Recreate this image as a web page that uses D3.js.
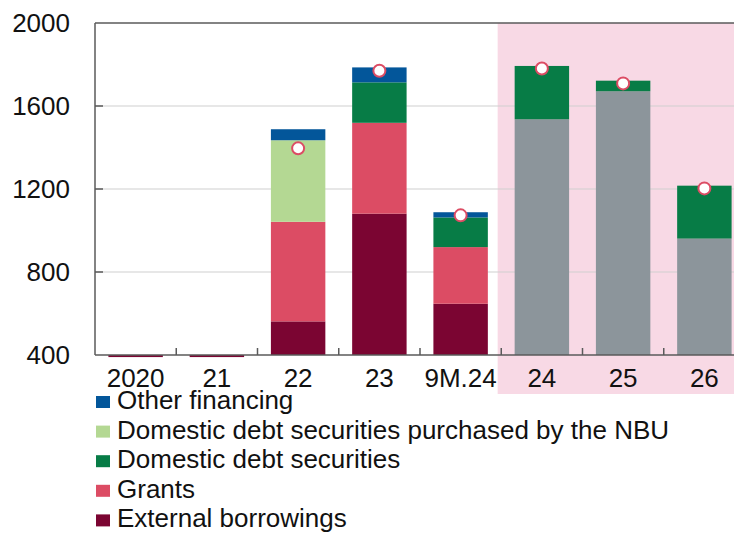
<!DOCTYPE html>
<html>
<head>
<meta charset="utf-8">
<script src="https://cdn.jsdelivr.net/npm/d3@7/dist/d3.min.js"></script>
<style>
  html, body { margin: 0; padding: 0; background: #fff; }
  svg { display: block; font-family: "Liberation Sans", Arial, sans-serif; }
</style>
</head>
<body>
<svg id="chart" width="734" height="533"></svg>
<script>
// Budget deficit financing, UAH bn
const categories = ["2020", "21", "22", "23", "9M.24", "24", "25", "26"];
const forecastCategories = ["24", "25", "26"];

const externalBorrowings = [390, 390, 562, 1081, 647, 0, 0, 0];
const grants            = [0, 0, 480, 438, 273, 0, 0, 0];
const forecastBase      = [0, 0, 0, 0, 0, 1536, 1671, 961];
const nbuSecurities     = [0, 0, 393, 0, 0, 0, 0, 0];
const domesticSecurities= [0, 0, 0, 195, 143, 257, 51, 255];
const otherFinancing    = [0, 0, 53, 72, 25, 0, 0, 0];
const deficitTotal      = [null, null, 1396, 1770, 1073, 1781, 1709, 1203];

const yTicks = [400, 800, 1200, 1600, 2000];
const yFloor = 400;

const seriesKeys = ["external", "grants", "forecast", "nbu", "domestic", "other"];
const seriesColor = {
  external: "#7b0532",
  grants:   "#dc4c64",
  forecast: "#8c959b",
  nbu:      "#b4d893",
  domestic: "#077c46",
  other:    "#03569a"
};
const legendItems = [
  { key: "other",    label: "Other financing" },
  { key: "nbu",      label: "Domestic debt securities purchased by the NBU" },
  { key: "domestic", label: "Domestic debt securities" },
  { key: "grants",   label: "Grants" },
  { key: "external", label: "External borrowings" }
];

const rows = categories.map((c, i) => ({
  cat: c,
  external: externalBorrowings[i],
  grants: grants[i],
  forecast: forecastBase[i],
  nbu: nbuSecurities[i],
  domestic: domesticSecurities[i],
  other: otherFinancing[i],
  total: deficitTotal[i]
}));

const svg = d3.select("#chart");
const margin = { left: 95, top: 23, bottom: 355 };
const plotRight = 745;

const x = d3.scaleBand()
  .domain(categories)
  .range([margin.left, plotRight])
  .paddingInner(0.33)
  .paddingOuter(0.165);

const y = d3.scaleLinear()
  .domain([yFloor, 2000])
  .range([margin.bottom, margin.top]);

// forecast shading
const shadeLeft = x(forecastCategories[0]) - 17;
svg.append("rect")
  .attr("x", shadeLeft)
  .attr("y", y(2000))
  .attr("width", 734 - shadeLeft)
  .attr("height", 394 - y(2000))
  .attr("fill", "#f8d9e5");

// gridlines
svg.append("g")
  .selectAll("line")
  .data(yTicks.filter(t => t > yFloor && t < 2000))
  .join("line")
  .attr("x1", margin.left)
  .attr("x2", 734)
  .attr("y1", d => y(d))
  .attr("y2", d => y(d))
  .attr("stroke", "#cfcfcf")
  .attr("stroke-width", 1.2);

// stacked bars; stacks that stay under the floor hang just below the axis
const stacked = d3.stack().keys(seriesKeys)(rows);

function segTop(d) {
  return d[1] >= yFloor ? y(d[1]) : y(yFloor);
}
function segBottom(d) {
  return d[1] >= yFloor ? y(Math.max(d[0], yFloor)) : y(d[1]);
}

svg.append("g")
  .selectAll("g")
  .data(stacked)
  .join("g")
  .attr("fill", d => seriesColor[d.key])
  .selectAll("rect")
  .data(d => d.filter(s => s[1] > s[0]))
  .join("rect")
  .attr("x", d => x(d.data.cat))
  .attr("width", x.bandwidth())
  .attr("y", d => segTop(d))
  .attr("height", d => segBottom(d) - segTop(d));

// axes frame
const axisColor = "#5a5a5a";
svg.append("line")
  .attr("x1", margin.left).attr("x2", 734)
  .attr("y1", y(2000)).attr("y2", y(2000))
  .attr("stroke", axisColor).attr("stroke-width", 1.5);
svg.append("line")
  .attr("x1", margin.left).attr("x2", 734)
  .attr("y1", y(yFloor)).attr("y2", y(yFloor))
  .attr("stroke", axisColor).attr("stroke-width", 1.5);
svg.append("line")
  .attr("x1", margin.left).attr("x2", margin.left)
  .attr("y1", y(2000)).attr("y2", y(yFloor))
  .attr("stroke", axisColor).attr("stroke-width", 1.5);

// y ticks and labels
const yAxis = d3.axisLeft(y)
  .tickValues(yTicks)
  .tickFormat(d3.format("d"))
  .tickSize(0)
  .tickPadding(25);
const yG = svg.append("g").attr("transform", `translate(${margin.left},0)`).call(yAxis);
yG.select(".domain").remove();
yG.selectAll("text")
  .attr("font-size", 26)
  .attr("fill", "#111")
  .attr("font-family", "'Liberation Sans', Arial, sans-serif");
svg.append("g")
  .selectAll("line")
  .data(yTicks.filter(t => t > yFloor && t < 2000))
  .join("line")
  .attr("x1", margin.left).attr("x2", margin.left + 8)
  .attr("y1", d => y(d)).attr("y2", d => y(d))
  .attr("stroke", axisColor).attr("stroke-width", 1.5);

// x ticks between categories
svg.append("g")
  .selectAll("line")
  .data(categories.slice(1))
  .join("line")
  .attr("x1", d => x(d) - x.step() * x.paddingInner() / 2)
  .attr("x2", d => x(d) - x.step() * x.paddingInner() / 2)
  .attr("y1", y(yFloor)).attr("y2", y(yFloor) - 7)
  .attr("stroke", axisColor).attr("stroke-width", 1.5);

// x labels
svg.append("g")
  .selectAll("text")
  .data(categories)
  .join("text")
  .attr("x", d => x(d) + x.bandwidth() / 2)
  .attr("y", 387)
  .attr("text-anchor", "middle")
  .attr("font-size", 26)
  .attr("fill", "#111")
  .text(d => d);

// deficit markers
svg.append("g")
  .selectAll("circle")
  .data(rows.filter(r => r.total != null))
  .join("circle")
  .attr("cx", d => x(d.cat) + x.bandwidth() / 2)
  .attr("cy", d => y(d.total))
  .attr("r", 6)
  .attr("fill", "#fff")
  .attr("stroke", "#dc4c64")
  .attr("stroke-width", 2);

// legend
const legend = svg.append("g").attr("transform", "translate(96,409)");
const item = legend.selectAll("g")
  .data(legendItems)
  .join("g")
  .attr("transform", (d, i) => `translate(0,${i * 29.6})`);
item.append("rect")
  .attr("x", 0).attr("y", -13)
  .attr("width", 14).attr("height", 12)
  .attr("fill", d => seriesColor[d.key]);
item.append("text")
  .attr("x", 21)
  .attr("y", 0)
  .attr("font-size", 26)
  .attr("fill", "#111")
  .text(d => d.label);
</script>
</body>
</html>
